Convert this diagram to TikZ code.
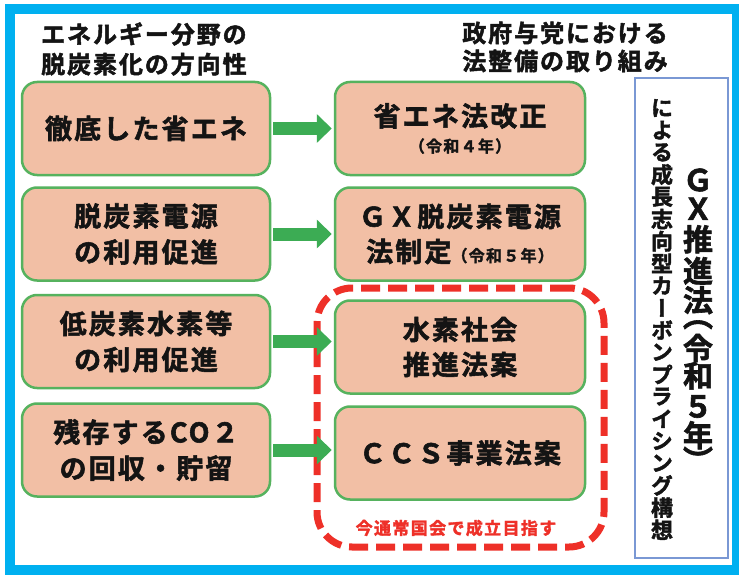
\documentclass[tikz,border=0pt]{standalone}
\usepackage{fontspec}
\setmainfont{Noto Sans CJK JP}
\newfontfamily\jpw{Noto Sans CJK JP}[UprightFont={* Bold},UprightFeatures={FakeBold=2},LetterSpace=8]
\newfontfamily\jpv{Noto Sans CJK JP}[UprightFont={* Bold},UprightFeatures={FakeBold=2},RawFeature=+vert]
\usetikzlibrary{arrows.meta}
\definecolor{frameblue}{RGB}{0,176,240}
\definecolor{boxfill}{RGB}{242,191,165}
\definecolor{boxgreen}{RGB}{86,178,94}
\definecolor{arrowgreen}{RGB}{60,172,84}
\definecolor{dashred}{RGB}{238,48,40}
\definecolor{gxblue}{RGB}{122,152,212}
\definecolor{inkblack}{RGB}{20,20,20}
\newcommand\vslot[2]{\hbox to 32pt{\hss\vbox to #1pt{\vss\hbox{#2}\vss}\hss}}
\begin{document}
\begin{tikzpicture}[x=1pt,y=-1pt,
  basebox/.style={draw=boxgreen, line width=2.5, fill=boxfill, rounded corners=15,
    minimum height=93, inner sep=0, align=center, text=inkblack,
    font=\jpw\fontsize{27}{36}\selectfont},
  lbox/.style={basebox, minimum width=248},
  rbox/.style={basebox, minimum width=250},
  garrow/.style={draw=arrowgreen, line width=13, -{Triangle[width=28pt,length=15pt]},
    shorten <=2pt, shorten >=2pt},
  hdr/.style={inner sep=0, text=inkblack, font=\jpw\fontsize{24}{30}\selectfont},
  reddash/.style={draw=dashred, line width=7, rounded corners=35,
    dash pattern=on 19pt off 8pt, minimum width=287, minimum height=259, inner sep=0},
  redlbl/.style={inner sep=0, text=dashred, font=\jpw\fontsize{17}{20}\selectfont},
  gxframe/.style={draw=gxblue, line width=2.5, minimum width=93, minimum height=480, inner sep=0},
  vsmall/.style={inner sep=0, text=inkblack, font=\jpv\fontsize{22}{22}\selectfont},
  vbig/.style={inner sep=0, text=inkblack, font=\jpv\fontsize{30}{30}\selectfont}
]
\useasboundingbox (0,0) rectangle (739,575);
\fill[white] (0,0) rectangle (739,575);
\draw[frameblue, line width=10] (10,9.5) rectangle (737,570);

% headers
\node[hdr, anchor=west, align=left] (hL) at (41,49) {エネルギー分野の\\脱炭素化の方向性};
\node[hdr, align=center, font=\jpw\fontsize{24}{28}\selectfont] (hR) at (565,47) {政府与党における\\法整備の取り組み};

% left boxes
\node[lbox] (L1) at (146,128.5) {徹底した省エネ};
\node[lbox] (L2) at (146,234) {脱炭素電源\\の利用促進};
\node[lbox] (L3) at (146,341.5) {低炭素水素等\\の利用促進};
\node[lbox] (L4) at (146,450) {残存するCO２\\の回収・貯留};

% red dashed group
\node[reddash] (grp) at (460.5,417.5) {};
\node[redlbl] (grplbl) at (456,528) {今通常国会で成立目指す};

% right boxes
\node[rbox, font=\jpw\fontsize{27}{26}\selectfont] (R1) at (460,128.5)
  {省エネ法改正\\{\fontsize{16}{20}\selectfont （令和４年）}};
\node[rbox, font=\jpw\fontsize{27}{35}\selectfont] (R2) at (460,234)
  {ＧＸ脱炭素電源\\法制定{\fontsize{16}{20}\selectfont （令和５年）}};
\node[rbox, font=\jpw\fontsize{27}{35}\selectfont] (R3) at (460,347) {水素社会\\推進法案};
\node[rbox] (R4) at (460,453) {ＣＣＳ事業法案};

% arrows
\draw[garrow] (L1.east) -- (L1.east -| R1.west);
\draw[garrow] (L2.east) -- (L2.east -| R2.west);
\draw[garrow] (L3.east) -- (L3.east -| R3.west);
\draw[garrow] (L4.east) -- (L4.east -| R4.west);

% GX frame with vertical text
\node[gxframe] (gx) at (681.5,318) {};
\node[vsmall] (gxsub) at (662,318.9) {\vbox{\offinterlineskip
  \foreach \c in {に,よ,る,成,長,志,向,型,カ,ー,ボ,ン,プ,ラ,イ,シ,ン,グ,構,想}{\vslot{22.2}{\c}}}};
\node[vbig] (gxmain) at (698,318) {\vbox{\offinterlineskip
  \vslot{28}{Ｇ}\vslot{29.5}{Ｘ}\vslot{31.5}{推}\vslot{31.5}{進}\vslot{27.5}{法}%
  \vslot{21.5}{（}\vslot{25}{令}\vslot{30.5}{和}\vslot{31}{５}\vslot{26.5}{年}\vslot{21.5}{）}}};
\end{tikzpicture}
\end{document}
